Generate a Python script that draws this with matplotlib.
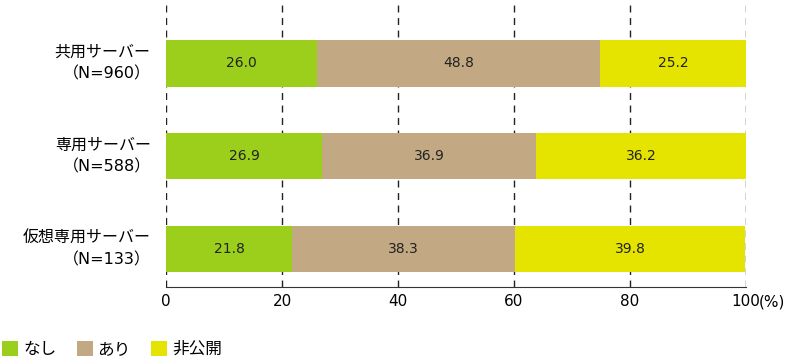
import matplotlib
matplotlib.use("Agg")
import matplotlib.pyplot as plt
import numpy as np

plt.rcParams['font.family'] = ['DejaVu Sans', 'Noto Sans CJK JP']

categories = ["共用サーバー\n（N=960）", "専用サーバー\n（N=588）", "仮想専用サーバー\n（N=133）"]
series_names = ["なし", "あり", "非公開"]
nashi = [26.0, 26.9, 21.8]
ari = [48.8, 36.9, 38.3]
hikoukai = [25.2, 36.2, 39.8]
xticks = [0, 20, 40, 60, 80, 100]
colors = ["#9ccf1c", "#c2a883", "#e4e400"]

fig = plt.figure(figsize=(8, 3.63), dpi=100)
ax = fig.add_axes([0.2075, 0.209, 0.725, 0.791])

y = np.arange(len(categories))
left = np.zeros(len(categories))
for name, vals, col in zip(series_names, [nashi, ari, hikoukai], colors):
    bars = ax.barh(y, vals, left=left, height=0.5, color=col, label=name, zorder=2)
    for b, v in zip(bars, vals):
        ax.text(b.get_x() + b.get_width() / 2, b.get_y() + b.get_height() / 2,
                f"{v:.1f}", ha="center", va="center", fontsize=10, color="#222222", zorder=3)
    left += np.array(vals)

ax.set_xlim(0, 100)
ax.set_ylim(2.41, -0.683)
ax.set_xticks(xticks)
ax.set_xticklabels([str(t) for t in xticks], fontsize=11)
ax.tick_params(axis="x", length=0, pad=5)
ax.annotate("(%)", xy=(100, 0), xycoords=("data", "axes fraction"),
            xytext=(9, -5), textcoords="offset points", ha="left", va="top", fontsize=11)

ax.set_yticks(y)
ax.set_yticklabels(categories, fontsize=11.5, linespacing=1.55)
ax.tick_params(axis="y", length=0, pad=11)
for lab in ax.get_yticklabels():
    lab.set_multialignment("right")
    lab.set_verticalalignment("center")

for s in ["top", "right", "left"]:
    ax.spines[s].set_visible(False)
ax.spines["bottom"].set_color("#333333")
ax.xaxis.grid(True, linestyle=(0, (5, 4)), color="#222222", linewidth=1.0, zorder=0)
ax.set_axisbelow(True)

fig.legend(loc="lower left", bbox_to_anchor=(-0.01, -0.014), ncol=3, frameon=False,
           fontsize=12, handlelength=0.96, handleheight=0.96, handletextpad=0.3,
           columnspacing=1.22, borderaxespad=0.2)

fig.savefig("out.png", dpi=100)
